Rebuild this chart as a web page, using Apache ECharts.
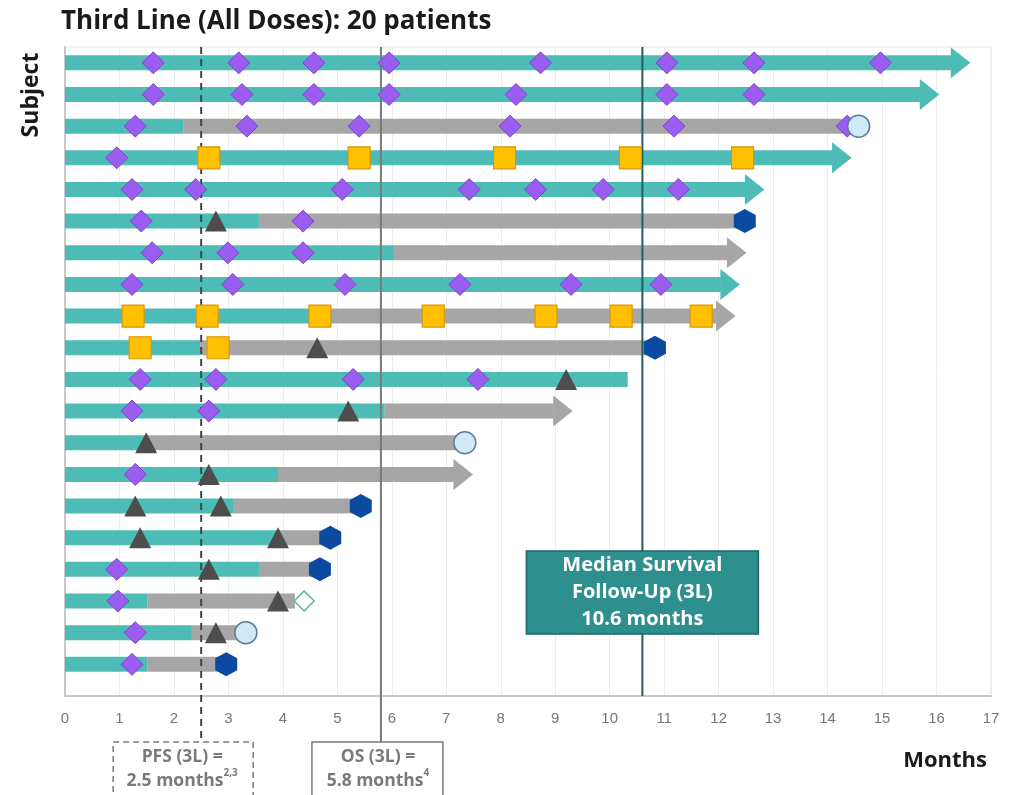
<!DOCTYPE html>
<html>
<head>
<meta charset="utf-8">
<script src="https://cdn.jsdelivr.net/npm/echarts@6/dist/echarts.min.js"></script>
<style>
html,body{margin:0;padding:0;background:#fff;}
#chart{width:1013px;height:795px;}
</style>
</head>
<body>
<div id="chart"></div>
<script>
// ---------- DATA ----------
var rows      = [1,2,3,4,5,6,7,8,9,10,11,12,13,14,15,16,17,18,19,20];
var tealEnd   = [16.62,16.05,2.18,14.44,12.84,3.56,6.04,12.39,4.90,2.48,10.33,5.87,1.49,3.91,3.10,3.91,3.56,1.51,2.33,1.51];
var barEnd    = [16.62,16.05,14.57,14.44,12.84,12.48,12.51,12.39,12.31,10.83,10.33,9.32,7.34,7.49,5.43,4.87,4.68,4.22,3.32,2.96];
var ongoing   = [1,1,0,1,1,0,1,1,1,0,0,1,0,1,0,0,0,0,0,0];

var diamonds = [
  [1.62,1],[3.19,1],[4.57,1],[5.95,1],[8.73,1],[11.05,1],[12.65,1],[14.97,1],
  [1.62,2],[3.25,2],[4.57,2],[5.95,2],[8.28,2],[11.05,2],[12.65,2],
  [1.29,3],[3.34,3],[5.40,3],[8.17,3],[11.18,3],[14.36,3],
  [0.95,4],
  [1.23,5],[2.40,5],[5.09,5],[7.42,5],[8.64,5],[9.88,5],[11.26,5],
  [1.40,6],[4.37,6],
  [1.60,7],[2.99,7],[4.37,7],
  [1.23,8],[3.08,8],[5.14,8],[7.25,8],[9.29,8],[10.94,8],
  [1.38,11],[2.77,11],[5.29,11],[7.58,11],
  [1.23,12],[2.64,12],
  [1.29,14],
  [0.95,17],
  [0.97,18],
  [1.29,19],
  [1.23,20]
];
var squares = [
  [2.64,4],[5.40,4],[8.07,4],[10.38,4],[12.44,4],
  [1.25,9],[2.61,9],[4.68,9],[6.76,9],[8.83,9],[10.21,9],[11.68,9],
  [1.38,10],[2.81,10]
];
var triangles = [
  [2.77,6],[4.63,10],[9.20,11],[5.20,12],[1.49,13],[2.64,14],
  [1.29,15],[2.86,15],[1.38,16],[3.91,16],[2.64,17],[3.91,18],[2.77,19]
];
var hexagons = [[12.48,6],[10.83,10],[5.43,15],[4.87,16],[4.68,17],[2.96,20]];
var circles  = [[14.57,3],[7.34,13],[3.32,19]];
var openDiamonds = [[4.39,18]];

var pfsMonths = 2.5;
var osMonths = 5.8;
var followUpMonths = 10.6;
var xTicks = [0,1,2,3,4,5,6,7,8,9,10,11,12,13,14,15,16,17];

// ---------- CHART ----------
var TEAL = '#4dbcb6', GREY = '#a6a6a6';
var barData = rows.map(function(r,i){ return [r, tealEnd[i], barEnd[i], ongoing[i]]; });

var chart = echarts.init(document.getElementById('chart'));

function renderBar(params, api){
  var row = api.value(0), teal = api.value(1), end = api.value(2), arrow = api.value(3);
  var p0 = api.coord([0,row]), pt = api.coord([teal,row]), pe = api.coord([end,row]);
  var h = 15, aLen = 19, aH = 31;
  var bodyEnd = arrow ? pe[0]-aLen : pe[0];
  var children = [];
  var tEnd = Math.min(pt[0], bodyEnd);
  children.push({type:'rect', shape:{x:p0[0], y:p0[1]-h/2, width:tEnd-p0[0], height:h}, style:{fill:TEAL}});
  if (teal < end) {
    children.push({type:'rect', shape:{x:pt[0], y:p0[1]-h/2, width:Math.max(0,bodyEnd-pt[0]), height:h}, style:{fill:GREY}});
  }
  if (arrow) {
    children.push({type:'polygon', shape:{points:[[bodyEnd-0.5,p0[1]-aH/2],[pe[0],p0[1]],[bodyEnd-0.5,p0[1]+aH/2]]},
      style:{fill: teal>=end ? TEAL : GREY}});
  }
  return {type:'group', children:children};
}

var hexPath = 'path://M0,-10 L8.66,-5 L8.66,5 L0,10 L-8.66,5 L-8.66,-5 Z';

chart.setOption({
  animation:false,
  title:{ text:'Third Line (All Doses): 20 patients', left:56, top:4,
    textStyle:{fontFamily:'Open Sans', fontWeight:'bold', fontSize:26, color:'#1a1a1a'} },
  grid:{ left:65, right:22, top:47, bottom:99, show:true, borderColor:'#e2e2e2', borderWidth:1 },
  xAxis:{ type:'value', min:0, max:17, interval:1,
    axisLine:{show:true, lineStyle:{color:'#c8c8c8', width:2}},
    axisTick:{show:false},
    splitLine:{show:true, lineStyle:{color:'#ececec', width:1}},
    axisLabel:{color:'#777', fontSize:15, fontFamily:'Liberation Sans', margin:15,
      formatter:function(v){ return xTicks.indexOf(v)>=0 ? String(v) : ''; }} },
  yAxis:{ type:'value', min:0.5, max:21, inverse:true,
    axisLine:{show:true, onZero:false, lineStyle:{color:'#c8c8c8', width:2}},
    axisTick:{show:false}, axisLabel:{show:false}, splitLine:{show:false} },
  series:[
    { type:'custom', renderItem:renderBar, data:barData, encode:{x:[1,2], y:0}, z:2, clip:false },
    { type:'scatter', data:diamonds, symbol:'diamond', symbolSize:[22,22], z:10,
      itemStyle:{color:'#9b5cf0', borderColor:'#7a45cc', borderWidth:1, opacity:1} },
    { type:'scatter', data:squares, symbol:'rect', symbolSize:22, z:10,
      itemStyle:{color:'#ffc000', borderColor:'#d8960a', borderWidth:1.2, opacity:1} },
    { type:'scatter', data:triangles, symbol:'triangle', symbolSize:[22,21], z:10,
      itemStyle:{color:'#4d4d4d', opacity:1} },
    { type:'scatter', data:hexagons, symbol:hexPath, symbolSize:[22,24], z:10,
      itemStyle:{color:'#0b4aa0', opacity:1} },
    { type:'scatter', data:circles, symbol:'circle', symbolSize:22, z:10,
      itemStyle:{color:'#cfeaf6', borderColor:'#5a7d98', borderWidth:1.5, opacity:1} },
    { type:'scatter', data:openDiamonds, symbol:'diamond', symbolSize:20, z:10,
      itemStyle:{color:'#ffffff', borderColor:'#5cb88c', borderWidth:1.5, opacity:1} }
  ]
});

function px(v,row){ return chart.convertToPixel({gridIndex:0}, [v,row]); }
var topY = px(0,0.5)[1], botY = px(0,21)[1];
var xPfs = px(pfsMonths,1)[0], xOs = px(osMonths,1)[0], xFu = px(followUpMonths,1)[0];
var boxTop = 742;
var gfont = function(sz){ return 'bold ' + sz + 'px "Open Sans"'; };
var boxRich = {
  m:{fontFamily:'Open Sans', fontWeight:'bold', fontSize:17.5, fill:'#7a7a7a', lineHeight:22, verticalAlign:'bottom'},
  s:{fontFamily:'Open Sans', fontWeight:'bold', fontSize:10, fill:'#7a7a7a', lineHeight:22, verticalAlign:'top'}
};

chart.setOption({
  graphic:[
    {type:'line', z:5, shape:{x1:xPfs,y1:topY,x2:xPfs,y2:boxTop}, style:{stroke:'#444', lineWidth:2, lineDash:[7,5]}},
    {type:'line', z:5, shape:{x1:xOs,y1:topY,x2:xOs,y2:boxTop}, style:{stroke:'#7a7a7a', lineWidth:2}},
    {type:'line', z:5, shape:{x1:xFu,y1:topY,x2:xFu,y2:botY}, style:{stroke:'#1f5f5e', lineWidth:2}},
    // PFS box
    {type:'rect', z:5, shape:{x:xPfs-88, y:boxTop, width:140, height:70}, style:{fill:'#fff', stroke:'#7a7a7a', lineWidth:1.5, lineDash:[6,4]}},
    {type:'text', z:6, x:xPfs-19, y:boxTop+15, style:{text:'PFS (3L) =', font:gfont(17.5), fill:'#7a7a7a', align:'center', verticalAlign:'middle'}},
    {type:'text', z:6, x:xPfs-19, y:boxTop+37, style:{text:'{m|2.5 months}{s|2,3}', rich:boxRich, fill:'#7a7a7a', align:'center', verticalAlign:'middle'}},
    // OS box
    {type:'rect', z:5, shape:{x:xOs-69, y:boxTop, width:131, height:70}, style:{fill:'#fff', stroke:'#7a7a7a', lineWidth:1.5}},
    {type:'text', z:6, x:xOs-3, y:boxTop+15, style:{text:'OS (3L) =', font:gfont(17.5), fill:'#7a7a7a', align:'center', verticalAlign:'middle'}},
    {type:'text', z:6, x:xOs-3, y:boxTop+37, style:{text:'{m|5.8 months}{s|4}', rich:boxRich, fill:'#7a7a7a', align:'center', verticalAlign:'middle'}},
    // Median follow-up box
    {type:'rect', z:20, shape:{x:xFu-116, y:551, width:232, height:83}, style:{fill:'#2e908e', stroke:'#1e6664', lineWidth:1.5}},
    {type:'text', z:21, x:xFu, y:565, style:{text:'Median Survival', font:gfont(20), fill:'#fff', align:'center', verticalAlign:'middle'}},
    {type:'text', z:21, x:xFu, y:592, style:{text:'Follow-Up (3L)', font:gfont(20), fill:'#fff', align:'center', verticalAlign:'middle'}},
    {type:'text', z:21, x:xFu, y:619, style:{text:'10.6 months', font:gfont(20), fill:'#fff', align:'center', verticalAlign:'middle'}},
    // axis names
    {type:'text', z:6, x:31, y:95, rotation:Math.PI/2, style:{text:'Subject', font:gfont(23), fill:'#1a1a1a', align:'center', verticalAlign:'middle'}},
    {type:'text', z:6, x:987, y:761, style:{text:'Months', font:gfont(22), fill:'#1a1a1a', align:'right', verticalAlign:'middle'}}
  ]
});
</script>
</body>
</html>
